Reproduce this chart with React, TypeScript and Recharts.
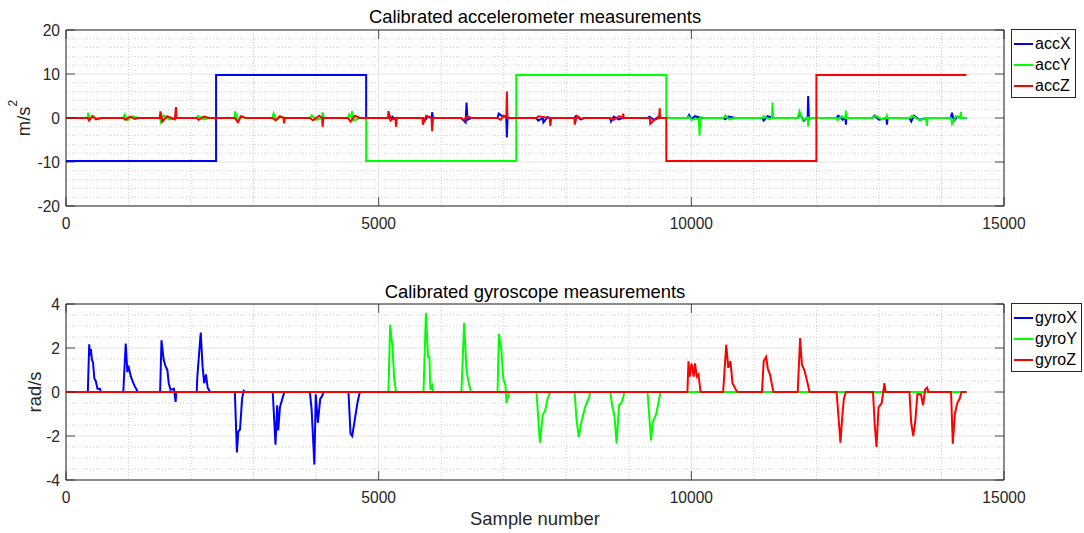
import React from 'react';
import { LineChart, Line, XAxis, YAxis, CartesianGrid, Legend, ReferenceArea } from 'recharts';

type Pt = [number, number];

// ---- axes ----
const sampleTicks = [0, 5000, 10000, 15000];
const sampleMinor = [1000, 2000, 3000, 4000, 6000, 7000, 8000, 9000, 11000, 12000, 13000, 14000];
const accTicks = [-20, -10, 0, 10, 20];
const accMinor = [-18, -16, -14, -12, -8, -6, -4, -2, 2, 4, 6, 8, 12, 14, 16, 18];
const gyroTicks = [-4, -2, 0, 2, 4];
const gyroMinor = [-3.5, -3, -2.5, -1.5, -1, -0.5, 0.5, 1, 1.5, 2.5, 3, 3.5];

// ---- accelerometer (m/s^2) ----
const accX: Pt[] = [
  [0, -9.8], [2400, -9.8], [2400, 9.8], [4800, 9.8], [4800, 0],
  [5150, 0], [5170, 0.6], [5190, -0.4], [5220, 0.3], [5260, -0.2], [5290, 0],
  [5710, 0], [5740, -0.5], [5790, 0.3], [5847, 0], [5855, 1.3], [5870, 0],
  [6320, 0], [6390, -1.0], [6405, 3.5], [6420, -0.4], [6480, 0],
  [6900, 0], [6920, 1.0], [6980, 0.4], [7040, 0.3], [7050, -4.4], [7062, 0.2], [7085, 0],
  [7520, 0], [7550, -0.6], [7625, 0], [7634, -1.0], [7700, 0.2], [7750, 0],
  [8130, 0], [8150, 0.4], [8230, -0.3], [8280, 0],
  [8700, 0], [8716, -0.8], [8760, 0.3], [8840, -0.3], [8900, 0],
  [9300, 0], [9330, 0.3], [9400, -0.4], [9480, 0.3], [9510, 0],
  [9940, 0], [9965, 0.7], [10000, -0.3], [10060, 0.4], [10150, 0],
  [10510, 0], [10540, -0.3], [10600, 0.3], [10700, 0],
  [11130, 0], [11157, -0.6], [11220, 0.4], [11300, 0],
  [11700, 0], [11740, 0.8], [11800, -0.6], [11860, 0.2], [11868, 5.0], [11880, -0.3], [11900, 0],
  [12320, 0], [12350, 0.5], [12420, -0.4], [12464, 0], [12472, -1.5], [12480, 0],
  [12900, 0], [12930, 0.5], [13000, -0.4], [13118, 0], [13128, -1.5], [13140, 0],
  [13490, 0], [13516, -0.8], [13560, 0.5], [13650, -0.4], [13770, 0],
  [14150, 0], [14167, 1.2], [14200, -0.6], [14260, 0.3], [14320, 0], [14400, 0],
];

const accY: Pt[] = [
  [0, 0], [345, 0], [355, 1.2], [380, -0.3], [430, 0.5], [500, -0.2], [560, 0],
  [915, 0], [940, 0.8], [980, -0.5], [1060, 0.4], [1150, 0],
  [1500, 0], [1520, -1.0], [1560, 0.6], [1650, -0.3], [1760, 0],
  [2090, 0], [2110, 0.5], [2200, -0.3], [2300, 0],
  [2700, 0], [2706, 1.5], [2740, -0.5], [2800, 0.4], [2870, 0],
  [3300, 0], [3320, 1.0], [3360, -0.6], [3440, 0.3], [3500, 0],
  [3900, 0], [3930, 0.6], [4000, -0.4], [4095, 0], [4104, 1.3], [4120, 0],
  [4510, 0], [4530, 0.8], [4565, 0], [4574, 1.6], [4600, -0.6], [4700, 0],
  [4800, 0], [4800, -9.8], [7200, -9.8], [7200, 9.8], [9600, 9.8], [9600, 0],
  [9940, 0], [9960, 0.3], [10000, -0.4], [10120, -0.2], [10131, -4.0], [10145, 0.2], [10200, 0],
  [10510, 0], [10547, 0.6], [10600, -0.3], [10700, 0],
  [11130, 0], [11160, 0.4], [11250, -0.3], [11290, 0.1], [11297, 3.5], [11310, 0],
  [11700, 0], [11729, 1.5], [11780, -0.5], [11860, 0.1], [11868, -1.9], [11880, 0],
  [12320, 0], [12340, -0.5], [12400, 0.4], [12465, 0], [12472, 1.7], [12485, 0],
  [12900, 0], [12950, 0.5], [13050, -0.3], [13120, 0], [13128, 0.5], [13140, 0],
  [13490, 0], [13530, 0.5], [13650, -0.5], [13755, 0], [13766, -1.8], [13780, 0],
  [14150, 0], [14170, -1.3], [14230, 0.4], [14300, 0], [14310, 1.4], [14320, 0], [14400, 0],
];

const accZ: Pt[] = [
  [0, 0], [350, 0], [370, -0.6], [420, 0.4], [480, -0.3], [560, 0],
  [915, 0], [950, -0.4], [1020, 0.3], [1100, -0.2], [1150, 0],
  [1500, 0], [1510, 1.5], [1540, -0.8], [1620, 0.4], [1740, -0.3], [1759, 2.5], [1765, 0],
  [2090, 0], [2120, -0.4], [2200, 0.3], [2300, 0],
  [2700, 0], [2750, -1.0], [2800, 0.4], [2870, 0],
  [3300, 0], [3350, -0.5], [3420, 0.4], [3478, 0], [3487, -1.2], [3500, 0],
  [3900, 0], [3950, -0.5], [4050, 0.5], [4095, 0], [4104, -2.0], [4115, 0],
  [4510, 0], [4550, -0.8], [4620, 0.5], [4700, 0],
  [5150, 0], [5156, 1.6], [5190, -0.5], [5268, 0], [5277, -2.0], [5290, 0],
  [5700, 0], [5706, -1.5], [5760, 0.5], [5845, 0], [5855, -3.0], [5870, 0],
  [6320, 0], [6360, -0.5], [6420, 0.4], [6480, 0],
  [6900, 0], [6950, -0.4], [7000, 0.5], [7042, 0.2], [7050, 6.0], [7060, 0],
  [7520, 0], [7560, 0.4], [7735, 0], [7745, -1.8], [7760, 0],
  [8130, 0], [8135, -1.5], [8170, 0.5], [8250, -0.3], [8280, 0],
  [8700, 0], [8760, -0.4], [8850, 0.4], [8900, 0], [8910, 1.0], [8920, 0],
  [9300, 0], [9335, 0], [9343, -1.3], [9400, -0.5], [9485, 0], [9494, 2.2], [9500, 0], [9600, 0],
  [9600, -9.8], [12000, -9.8], [12000, 9.8], [14400, 9.8],
];

// ---- gyroscope (rad/s) ----
const gyroX: Pt[] = [
  [0, 0], [349, 0], [371, 2.17], [387, 1.65], [398, 1.95], [415, 1.45], [432, 1.35], [454, 0.6], [476, 0.5], [503, 0.15], [542, 0.15], [558, 0],
  [916, 0], [955, 2.2], [982, 0.9], [999, 1.2], [1037, 0.7], [1092, 0.3], [1131, 0.1], [1147, 0],
  [1505, 0], [1527, 2.35], [1560, 1.5], [1588, 1.2], [1621, 1.0], [1643, 0.4], [1671, 0.1], [1726, 0.15], [1753, -0.45], [1764, 0],
  [2090, 0], [2100, 0.7], [2138, 2.1], [2155, 2.7], [2183, 1.2], [2210, 0.4], [2238, 0.8], [2265, 0.2], [2304, 0],
  [2700, 0], [2733, -2.75], [2755, -1.8], [2783, -1.7], [2816, -0.3], [2843, 0.05], [2865, 0],
  [3306, 0], [3350, -2.4], [3377, -0.6], [3394, -1.75], [3421, -0.7], [3460, -0.3], [3493, 0],
  [3900, 0], [3928, -0.8], [3972, -3.3], [3994, -0.1], [4027, -1.4], [4066, -0.3], [4093, -0.2], [4121, 0],
  [4517, 0], [4550, -1.9], [4577, -2.0], [4616, -1.3], [4660, -0.5], [4699, 0], [14400, 0],
];

const gyroY: Pt[] = [
  [0, 0], [5156, 0], [5183, 3.05], [5222, 2.0], [5249, 0.6], [5277, 0],
  [5717, 0], [5756, 3.6], [5789, 1.6], [5811, 1.6], [5827, 0.1], [5855, 0.3], [5872, 0],
  [6323, 0], [6367, 3.15], [6405, 1.0], [6433, 0.5], [6477, 0],
  [6901, 0], [6923, 2.65], [6961, 1.95], [6994, 0.6], [7028, 0.3], [7044, -0.5], [7066, -0.25], [7083, 0],
  [7524, 0], [7578, -2.3], [7624, -1.05], [7662, -0.85], [7701, -0.3], [7745, 0],
  [8134, 0], [8162, -1.2], [8200, -2.05], [8234, -1.45], [8300, -0.7], [8356, -0.3], [8389, 0],
  [8705, 0], [8733, -0.6], [8772, -1.1], [8805, -2.35], [8844, -0.6], [8883, -0.5], [8933, 0],
  [9299, 0], [9327, -1.1], [9355, -2.2], [9382, -1.4], [9438, -1.0], [9493, -0.2], [9510, 0], [14400, 0],
];

const gyroZ: Pt[] = [
  [0, 0], [9937, 0], [9954, 1.4], [9976, 0.7], [10003, 1.3], [10037, 0.7], [10059, 1.3], [10087, 0.7], [10114, 0.8], [10148, 0],
  [10508, 0], [10558, 2.15], [10591, 1.1], [10625, 1.4], [10658, 0.4], [10714, 0.1], [10741, 0],
  [11130, 0], [11157, 1.4], [11196, 1.6], [11224, 1.05], [11257, 0.8], [11285, 0.4], [11313, 0],
  [11701, 0], [11740, 2.45], [11768, 1.25], [11807, 1.0], [11851, 0.5], [11890, 0],
  [12323, 0], [12350, -1.0], [12384, -2.3], [12417, -1.0], [12439, -0.3], [12472, 0],
  [12905, 0], [12933, -1.5], [12961, -2.5], [12994, -0.7], [13044, -0.5], [13088, 0.4], [13105, 0],
  [13488, 0], [13516, -1.4], [13549, -2.0], [13582, -1.3], [13615, -0.1], [13671, -0.1], [13706, -0.6], [13737, 0.1], [13770, 0.2], [13793, 0],
  [14153, 0], [14181, -2.35], [14214, -1.0], [14253, -0.5], [14292, -0.3], [14320, 0], [14400, 0],
];

// ---- layout ----
const W = 1084;
const PLOT_L = 66;
const PLOT_R = 1004;
const PLOT_H = 176;
const Y_AXIS_W = 40;
const X_AXIS_H = 30;
const FONT = '"Liberation Sans", Arial, Helvetica, sans-serif';
const AX = '#262626';
const BLUE = '#0000ff';
const GREEN = '#00ff00';
const RED = '#ff0000';

const toRows = (pts: Pt[]) => pts.map(([x, y]) => ({ x, y }));

interface Series {
  name: string;
  color: string;
  points: Pt[];
}

const accSeries: Series[] = [
  { name: 'accX', color: BLUE, points: accX },
  { name: 'accY', color: GREEN, points: accY },
  { name: 'accZ', color: RED, points: accZ },
];

const gyroSeries: Series[] = [
  { name: 'gyroX', color: BLUE, points: gyroX },
  { name: 'gyroY', color: GREEN, points: gyroY },
  { name: 'gyroZ', color: RED, points: gyroZ },
];

const makeXTick = (plotTop: number) => (p: any) => (
  <g>
    <line x1={p.x} x2={p.x} y1={p.y} y2={p.y - 9} stroke={AX} strokeWidth={0.8} />
    <line x1={p.x} x2={p.x} y1={plotTop} y2={plotTop + 9} stroke={AX} strokeWidth={0.8} />
    <text x={p.x} y={p.y + 22.5} textAnchor="middle" fontSize={15.6} fill={AX} fontFamily={FONT}>
      {p.payload.value}
    </text>
  </g>
);

const yTick = (p: any) => (
  <g>
    <line x1={p.x} x2={p.x + 9} y1={p.y} y2={p.y} stroke={AX} strokeWidth={0.8} />
    <line x1={PLOT_R - 9} x2={PLOT_R} y1={p.y} y2={p.y} stroke={AX} strokeWidth={0.8} />
    <text x={p.x - 6} y={p.y + 5.6} textAnchor="end" fontSize={15.6} fill={AX} fontFamily={FONT}>
      {p.payload.value}
    </text>
  </g>
);

const LegendBox = (props: any) => {
  const items = (props.payload || []) as any[];
  return (
    <div
      style={{
        border: `1px solid ${AX}`,
        background: '#fff',
        padding: '3px 4px 0 2px',
        fontFamily: FONT,
        fontSize: 16,
        color: '#000',
        whiteSpace: 'nowrap',
        lineHeight: 1,
      }}
    >
      {items.map((it) => (
        <div key={it.value} style={{ display: 'flex', alignItems: 'center', height: 21.3 }}>
          <svg width={21} height={4} style={{ display: 'block' }}>
            <line x1={0} x2={19} y1={2} y2={2} stroke={it.color} strokeWidth={2} />
          </svg>
          <span>{it.value}</span>
        </div>
      ))}
    </div>
  );
};

interface PanelProps {
  height: number;
  plotTop: number;
  series: Series[];
  yDomain: [number, number];
  yTicks: number[];
  yMinor: number[];
  yLabel: (p: any) => React.ReactElement;
}

function Panel({ height, plotTop, series, yDomain, yTicks, yMinor, yLabel }: PanelProps) {
  const bottom = height - plotTop - PLOT_H - X_AXIS_H;
  return (
    <LineChart
      width={W}
      height={height}
      margin={{ top: plotTop, right: W - PLOT_R, left: PLOT_L - Y_AXIS_W, bottom }}
    >
      <CartesianGrid stroke="#cfcfcf" strokeDasharray="1 2" horizontalValues={yMinor} verticalValues={sampleMinor} />
      <CartesianGrid stroke="#e4e4e4" />
      <XAxis
        type="number"
        dataKey="x"
        domain={[0, 15000]}
        ticks={sampleTicks}
        interval={0}
        allowDataOverflow
        height={X_AXIS_H}
        tickSize={0}
        tickMargin={0}
        axisLine={false}
        tickLine={false}
        tick={makeXTick(plotTop)}
      />
      <YAxis
        type="number"
        domain={yDomain}
        ticks={yTicks}
        interval={0}
        allowDataOverflow
        width={Y_AXIS_W}
        tickSize={0}
        tickMargin={0}
        axisLine={false}
        tickLine={false}
        tick={yTick}
        label={yLabel}
      />
      <ReferenceArea x1={0} x2={15000} y1={yDomain[0]} y2={yDomain[1]} fill="none" stroke={AX} strokeWidth={1} />
      {series.map((s) => (
        <Line
          key={s.name}
          name={s.name}
          data={toRows(s.points)}
          dataKey="y"
          type="linear"
          stroke={s.color}
          strokeWidth={2}
          dot={false}
          activeDot={false}
          isAnimationActive={false}
        />
      ))}
      <Legend
        layout="vertical"
        align="center"
        verticalAlign="middle"
        content={LegendBox}
        wrapperStyle={{ left: 1011, top: plotTop - 1, right: 'auto', bottom: 'auto', width: 'auto', height: 'auto' }}
      />
    </LineChart>
  );
}

const accLabel = () => (
  <text transform="translate(30,118) rotate(-90)" textAnchor="middle" fontFamily={FONT} fontSize={18.4} fill={AX}>
    m/s
    <tspan dy={-13} fontSize={12}>2</tspan>
  </text>
);

const gyroLabel = () => (
  <text transform="translate(41,126) rotate(-90)" textAnchor="middle" fontFamily={FONT} fontSize={18.4} fill={AX}>
    rad/s
  </text>
);

export default function App() {
  return (
    <div style={{ position: 'absolute', left: 0, top: 0, width: W, height: 533, background: '#fff' }}>
      <Panel height={266} plotTop={30} series={accSeries} yDomain={[-20, 20]} yTicks={accTicks} yMinor={accMinor} yLabel={accLabel} />
      <Panel height={267} plotTop={38} series={gyroSeries} yDomain={[-4, 4]} yTicks={gyroTicks} yMinor={gyroMinor} yLabel={gyroLabel} />
      <svg width={W} height={533} style={{ position: 'absolute', left: 0, top: 0, pointerEvents: 'none' }}>
        <text x={535} y={22.7} textAnchor="middle" fontFamily={FONT} fontSize={18.4} fill="#000">
          Calibrated accelerometer measurements
        </text>
        <text x={535} y={297.5} textAnchor="middle" fontFamily={FONT} fontSize={18.4} fill="#000">
          Calibrated gyroscope measurements
        </text>
        <text x={535} y={525} textAnchor="middle" fontFamily={FONT} fontSize={18.4} fill={AX}>
          Sample number
        </text>
      </svg>
    </div>
  );
}
